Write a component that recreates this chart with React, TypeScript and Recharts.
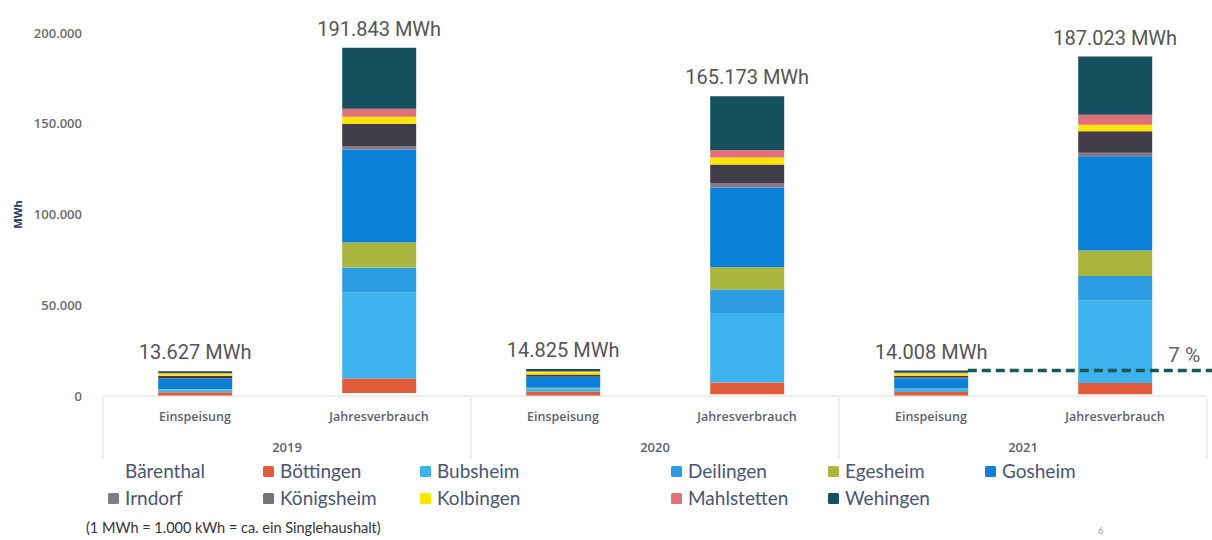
import React from 'react';
import {
  BarChart,
  Bar,
  XAxis,
  YAxis,
  Legend,
  LabelList,
  ReferenceLine,
  Label,
} from 'recharts';

// Categories on the x axis (unique ids), their display labels and year groups
const categories = ['2019-E', '2019-J', '2020-E', '2020-J', '2021-E', '2021-J'];
const kindLabels = ['Einspeisung', 'Jahresverbrauch', 'Einspeisung', 'Jahresverbrauch', 'Einspeisung', 'Jahresverbrauch'];
const years = ['2019', '2019', '2020', '2020', '2021', '2021'];

// Stated totals per bar in MWh
const totals = [13627, 191843, 14825, 165173, 14008, 187023];

// Per-municipality values in MWh (same order as categories)
const baerenthal = [0, 1700, 0, 900, 0, 900];
const boettingen = [2000, 8000, 2300, 6600, 2200, 6300];
const bubsheim = [1200, 47400, 1500, 38200, 1300, 45500];
const deilingen = [300, 13700, 400, 13000, 400, 13400];
const egesheim = [200, 13800, 300, 12200, 300, 14100];
const gosheim = [5800, 51200, 5900, 44000, 5600, 51900];
const irndorf = [200, 1900, 200, 2500, 200, 1900];
const koenigsheim = [1400, 12300, 1300, 10200, 1200, 11900];
const kolbingen = [1300, 3800, 1400, 3800, 1300, 3500];
const mahlstetten = [300, 4400, 300, 4200, 300, 5500];
const wehingen = [927, 33643, 1225, 29573, 1208, 32123];

const yTicks = [0, 50000, 100000, 150000, 200000];
const shareLabel = '7 %';

const towns = [
  { key: 'Bärenthal', values: baerenthal, color: '#ffffff' },
  { key: 'Böttingen', values: boettingen, color: '#e25c3c' },
  { key: 'Bubsheim', values: bubsheim, color: '#3db2ec' },
  { key: 'Deilingen', values: deilingen, color: '#2c9ce2' },
  { key: 'Egesheim', values: egesheim, color: '#a9b53c' },
  { key: 'Gosheim', values: gosheim, color: '#0b80d8' },
  { key: 'Irndorf', values: irndorf, color: '#85798a' },
  { key: 'Königsheim', values: koenigsheim, color: '#403c48' },
  { key: 'Kolbingen', values: kolbingen, color: '#ffe500' },
  { key: 'Mahlstetten', values: mahlstetten, color: '#e0707a' },
  { key: 'Wehingen', values: wehingen, color: '#15505f' },
];

const legendSwatch: Record<string, string> = {
  Irndorf: '#7e7a88',
  Königsheim: '#75717d',
};

const data = categories.map((id, i) => {
  const row: Record<string, any> = { id, kind: kindLabels[i], year: years[i], total: totals[i] };
  towns.forEach((t) => {
    row[t.key] = t.values[i];
  });
  return row;
});

const fmtDE = (v: number) => String(Math.round(v)).replace(/\B(?=(\d{3})+(?!\d))/g, '.');

const FONT = 'Lato, "Open Sans", sans-serif';

const KindTick = (props: any) => {
  const { x, y, payload, index, width } = props;
  const half = payload && payload.offset ? payload.offset : width / 12;
  const label = kindLabels[categories.indexOf(payload.value)] ?? '';
  return (
    <g>
      <text
        x={x}
        y={y + 25}
        textAnchor="middle"
        fill="#5b6070"
        fontSize={12.5}
        fontWeight={600}
        fontFamily='"Open Sans", sans-serif'
      >
        {label}
      </text>
      {index % 2 === 0 && (
        <line x1={x - half} x2={x - half} y1={y + 2} y2={y + 62} stroke="#e2e2e2" strokeWidth={1.2} />
      )}
      {index === categories.length - 1 && (
        <line x1={x + half} x2={x + half} y1={y + 2} y2={y + 62} stroke="#e2e2e2" strokeWidth={1.2} />
      )}
    </g>
  );
};

const YearTick = (props: any) => {
  const { x, y, payload } = props;
  return (
    <text
      x={x}
      y={y + 26}
      textAnchor="middle"
      fill="#5b6070"
      fontSize={13}
      fontWeight={600}
      fontFamily='"Open Sans", sans-serif'
    >
      {payload.value}
    </text>
  );
};

const TotalLabel = (props: any) => {
  const { x, y, width, value } = props;
  return (
    <text
      x={x + width / 2}
      y={y - 12}
      textAnchor="middle"
      fill="#555"
      fontSize={20}
      fontFamily="Roboto, sans-serif"
    >
      {`${fmtDE(Number(value))} MWh`}
    </text>
  );
};

const ShareLine = (props: any) => {
  const { x1, x2, y1 } = props;
  const band = x2 - x1;
  const start = x1 + band * 0.2;
  const end = x2 + band * 0.53;
  return (
    <g>
      <line x1={start} x2={end} y1={y1} y2={y1} stroke="#1a5858" strokeWidth={3.5} strokeDasharray="9 5" />
      <text x={end - 12} y={y1 - 9} textAnchor="end" fill="#666" fontSize={21} fontFamily="Roboto, sans-serif">
        {shareLabel}
      </text>
    </g>
  );
};

const colLefts = [108, 263, 420, 671, 828, 985];
const rowCenters = [8, 35];

const LegendContent = (props: any) => {
  const payload = props.payload || [];
  const ordered = towns.map((t) => payload.find((p: any) => p.value === t.key || p.dataKey === t.key) || { value: t.key, color: t.color });
  return (
    <div style={{ position: 'relative', width: 1212, height: 77, fontFamily: FONT }}>
      {ordered.map((p: any, i: number) => {
        const name = String(p.value);
        const col = i % 6;
        const row = Math.floor(i / 6);
        return (
          <div
            key={name}
            style={{
              position: 'absolute',
              left: colLefts[col],
              top: rowCenters[row] - 12,
              height: 24,
              display: 'flex',
              alignItems: 'center',
              whiteSpace: 'nowrap',
            }}
          >
            <span
              style={{
                display: 'inline-block',
                width: 11,
                height: 11,
                borderRadius: 1.5,
                background: legendSwatch[name] || p.color,
                marginRight: 6,
              }}
            />
            <span style={{ fontSize: 19, color: '#475574', lineHeight: '24px' }}>{name}</span>
          </div>
        );
      })}
      <div
        style={{
          position: 'absolute',
          left: 86,
          top: 56,
          fontSize: 14.5,
          lineHeight: '18px',
          color: '#333',
          whiteSpace: 'nowrap',
        }}
      >
        (1 MWh = 1.000 kWh = ca. ein Singlehaushalt)
      </div>
      <div style={{ position: 'absolute', left: 1098, top: 62, fontSize: 9, color: '#999' }}>6</div>
    </div>
  );
};

export default function App() {
  return (
    <div style={{ position: 'absolute', left: 0, top: 0, width: 1212, height: 540, background: '#fff' }}>
      <BarChart
        width={1212}
        height={540}
        data={data}
        margin={{ top: 33, right: 5, bottom: 1, left: 0 }}
        barCategoryGap="30%"
        style={{ fontFamily: FONT }}
      >
        <XAxis
          dataKey="id"
          xAxisId={0}
          height={30}
          interval={0}
          tickSize={0}
          tickMargin={0}
          tickLine={false}
          axisLine={{ stroke: '#dcdcdc', strokeWidth: 1.2 }}
          tick={<KindTick />}
        />
        <XAxis
          dataKey="year"
          xAxisId="year"
          height={36}
          interval={0}
          allowDuplicatedCategory={false}
          tickSize={0}
          tickMargin={0}
          tickLine={false}
          axisLine={false}
          tick={<YearTick />}
        />
        <YAxis
          width={103}
          domain={[0, 200000]}
          ticks={yTicks}
          tickFormatter={fmtDE}
          axisLine={false}
          tickLine={false}
          tickMargin={15}
          tick={{ fill: '#6b6b6b', fontSize: 13, fontWeight: 600, fontFamily: '"Open Sans", sans-serif' }}
        >
          <Label
            content={(p: any) => {
              const vb = p.viewBox || {};
              const cx = (vb.x ?? 0) + 17;
              const cy = (vb.y ?? 0) + (vb.height ?? 0) / 2;
              return (
                <text
                  x={cx}
                  y={cy}
                  transform={`rotate(-90 ${cx} ${cy})`}
                  textAnchor="middle"
                  dominantBaseline="central"
                  fill="#1f3864"
                  fontSize={11}
                  fontWeight={700}
                  fontFamily='"Open Sans", sans-serif'
                >
                  MWh
                </text>
              );
            }}
          />
        </YAxis>
        {towns.map((t, i) => (
          <Bar key={t.key} dataKey={t.key} stackId="a" fill={t.color} isAnimationActive={false}>
            {i === towns.length - 1 && <LabelList dataKey="total" content={<TotalLabel />} />}
          </Bar>
        ))}
        <ReferenceLine
          xAxisId={0}
          segment={[
            { x: '2021-E', y: totals[4] },
            { x: '2021-J', y: totals[4] },
          ]}
          ifOverflow="visible"
          shape={<ShareLine />}
        />
        <Legend
          verticalAlign="bottom"
          content={<LegendContent />}
          wrapperStyle={{ left: 0, top: 463, width: 1212, height: 77 }}
        />
      </BarChart>
    </div>
  );
}
